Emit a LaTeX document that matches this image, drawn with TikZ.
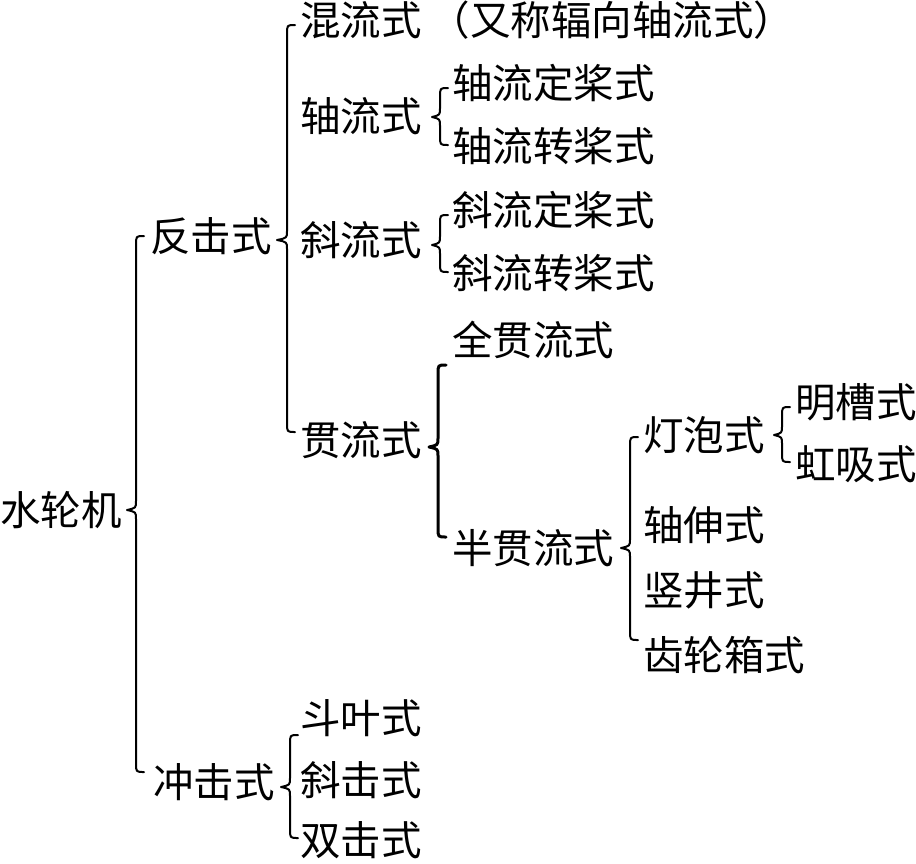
\documentclass[tikz,border=0pt]{standalone}
\usepackage{fontspec}
\setmainfont{Noto Sans CJK SC}
\newcommand\cbr[6][]{% x, top, tipy, bot, depth
  \draw[brace,#1] (#2+8,#3) .. controls (#2,#3) .. (#2,#3+9) -- (#2,#4-9)
    .. controls (#2,#4-2) .. (#2-#6,#4) .. controls (#2,#4+2) .. (#2,#4+9)
    -- (#2,#5-9) .. controls (#2,#5) .. (#2+8,#5);}
\begin{document}
\begin{tikzpicture}[x=1pt,y=-1pt,
  lbl/.style={anchor=west,inner sep=0pt,font=\fontsize{40.5}{44}\selectfont},
  brace/.style={line width=2pt,line cap=round,line join=round}]
\useasboundingbox (0,0) rectangle (916,863);
\node[lbl] (n0) at (0,510) {水轮机};
\node[lbl] (a1) at (150,236) {反击式};
\node[lbl] (a2) at (153,782) {冲击式};
\node[lbl] (b1) at (300,20) {混流式\hspace{8pt}（又称辐向轴流式）};
\node[lbl] (b2) at (300,116) {轴流式};
\node[lbl] (c1) at (452,83) {轴流定桨式};
\node[lbl] (c2) at (452,146) {轴流转桨式};
\node[lbl] (b3) at (300,240) {斜流式};
\node[lbl] (c3) at (452,210) {斜流定桨式};
\node[lbl] (c4) at (452,273) {斜流转桨式};
\node[lbl] (b4) at (300,440) {贯流式};
\node[lbl] (c5) at (452,340) {全贯流式};
\node[lbl] (c6) at (452,548) {半贯流式};
\node[lbl] (d1) at (643,435) {灯泡式};
\node[lbl] (e1) at (795,402) {明槽式};
\node[lbl] (e2) at (795,464) {虹吸式};
\node[lbl] (d2) at (643,525) {轴伸式};
\node[lbl] (d3) at (643,590) {竖井式};
\node[lbl] (d4) at (643,655) {齿轮箱式};
\node[lbl] (b5) at (300,718) {斗叶式};
\node[lbl] (b6) at (300,780) {斜击式};
\node[lbl] (b7) at (300,840) {双击式};
\cbr{136}{236}{510}{772}{9}
\cbr{287}{25}{240}{432}{10}
\cbr{440}{88}{117}{145}{8}
\cbr{440}{215}{245}{272}{8}
\cbr[line width=3pt]{438}{365}{447}{537}{9}
\cbr{630}{437}{548}{640}{9}
\cbr{782}{407}{435}{462}{8}
\cbr{290}{735}{787}{838}{9}
\end{tikzpicture}
\end{document}
